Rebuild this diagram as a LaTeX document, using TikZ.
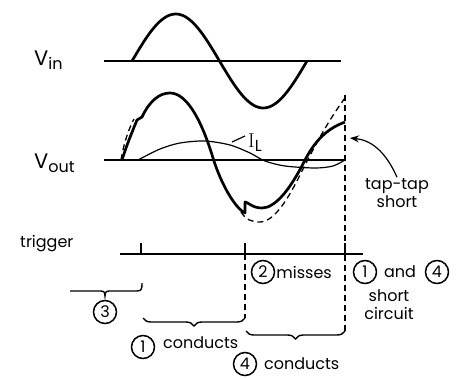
\documentclass[tikz,border=0pt]{standalone}
\usepackage{fontspec}
\setsansfont{Poppins}
\usetikzlibrary{arrows.meta,decorations.pathreplacing}
\begin{document}
\begin{tikzpicture}[x=1pt, y=-1pt,
    every node/.style={font=\sffamily\fontsize{16}{18}\selectfont, inner sep=1pt},
    axis/.style={line width=1.4pt},
    wave/.style={line width=2.7pt, line join=round},
    ideal/.style={line width=1.3pt, dash pattern=on 6pt off 4pt},
    num/.style={circle, draw, line width=1.5pt, inner sep=0pt, minimum size=23pt},
    brc/.style={line width=1.4pt, decorate, decoration={brace, amplitude=8pt}}]
\useasboundingbox (0,0) rectangle (457,378);
% signal names
\node[anchor=base west] (vin) at (33,65) {\fontsize{21}{21}\selectfont V\raisebox{-.4ex}{\fontsize{16}{16}\selectfont in}};
\node[anchor=base west] (vout) at (33,168) {\fontsize{21}{21}\selectfont V\raisebox{-.4ex}{\fontsize{16}{16}\selectfont out}};
\node[anchor=base west] (trig) at (19,247) {trigger};
% axes
\draw[axis] (104,61) -- (341,61);
\draw[axis] (104,160) -- (345,160);
\draw[line width=2.4pt] (120,254) -- (363,254);
\foreach \t in {141,245,345}
    \draw[line width=2pt] (\t,254) -- (\t,243);
% input
\draw[wave] plot[domain=0:175, samples=70] ({132+\x},{61-47*sin(\x/175*360)});
% load current
\draw[line width=1.2pt] plot[smooth] coordinates {(138,160) (160,149) (180,143) (205,141) (230,145) (250,153) (265,161) (285,166) (315,168) (333,166) (345,160)};
\node[anchor=base west] (il) at (247,147) {{\rmfamily\fontsize{20}{20}\selectfont I}\raisebox{-.5ex}{L}};
\draw[line width=1.2pt] (232,142) -- (245,136);
% output
\draw[ideal] (121,160) .. controls (123,148) and (127,132) .. (134,119);
\draw[ideal] (241,212) .. controls (246,220) and (252,222) .. (260,222)
    .. controls (275,222) and (290,195) .. (300,175) .. controls (315,145) and (330,118) .. (345,98);
\draw[wave] (122,160) .. controls (126,147) and (132,132) .. (137,120) -- (142,117)
    .. controls (150,100) and (160,93) .. (170,93) .. controls (185,93) and (200,115) .. (213,158)
    .. controls (221,184) and (235,208) .. (245,213) -- (245,202)
    .. controls (248,202) and (252,208) .. (262,208) .. controls (275,208) and (290,190) .. (305,160)
    .. controls (318,135) and (332,127) .. (345,122);
% short marker
\draw[ideal] (345,95) -- (345,331);
\draw[ideal] (245,254) -- (245,318);
\node[align=center] (tts) at (397,193) {tap-tap\\short};
\coordinate (tip) at (350,138);
\draw[line width=1.2pt, -{Stealth[length=9pt,width=7pt]}] (tts.north) .. controls (385,150) and (370,140) .. (tip);
% events
\node[num] (c2) at (263,272) {2};
\node[anchor=west] (miss) at (c2.east) {misses};
\node[num] (c1b) at (365,272) {1};
\node (and) at (400,272) {and};
\node[num] (c4b) at (437,272) {4};
\node[align=center] (sc) at (389,305) {short\\circuit};
% brackets
\draw[line width=1.4pt] (70,291) -- (101,291) .. controls (105,291) and (105,294) .. (105,296) .. controls (105,294) and (105,291) .. (109,291) -- (137,291) .. controls (142,291) and (142,288) .. (142,283);
\node[num] (c3) at (105,312) {3};
\draw[brc] (245,318) -- (143,318);
\draw[brc] (345,331) -- (246,331);
\node[num] (c1) at (143,347) {1};
\node[anchor=west] (cond1) at (162,343) {conducts};
\node[num] (c4) at (245,364) {4};
\node[anchor=west] (cond4) at (263,364) {conducts};
\end{tikzpicture}
\end{document}
